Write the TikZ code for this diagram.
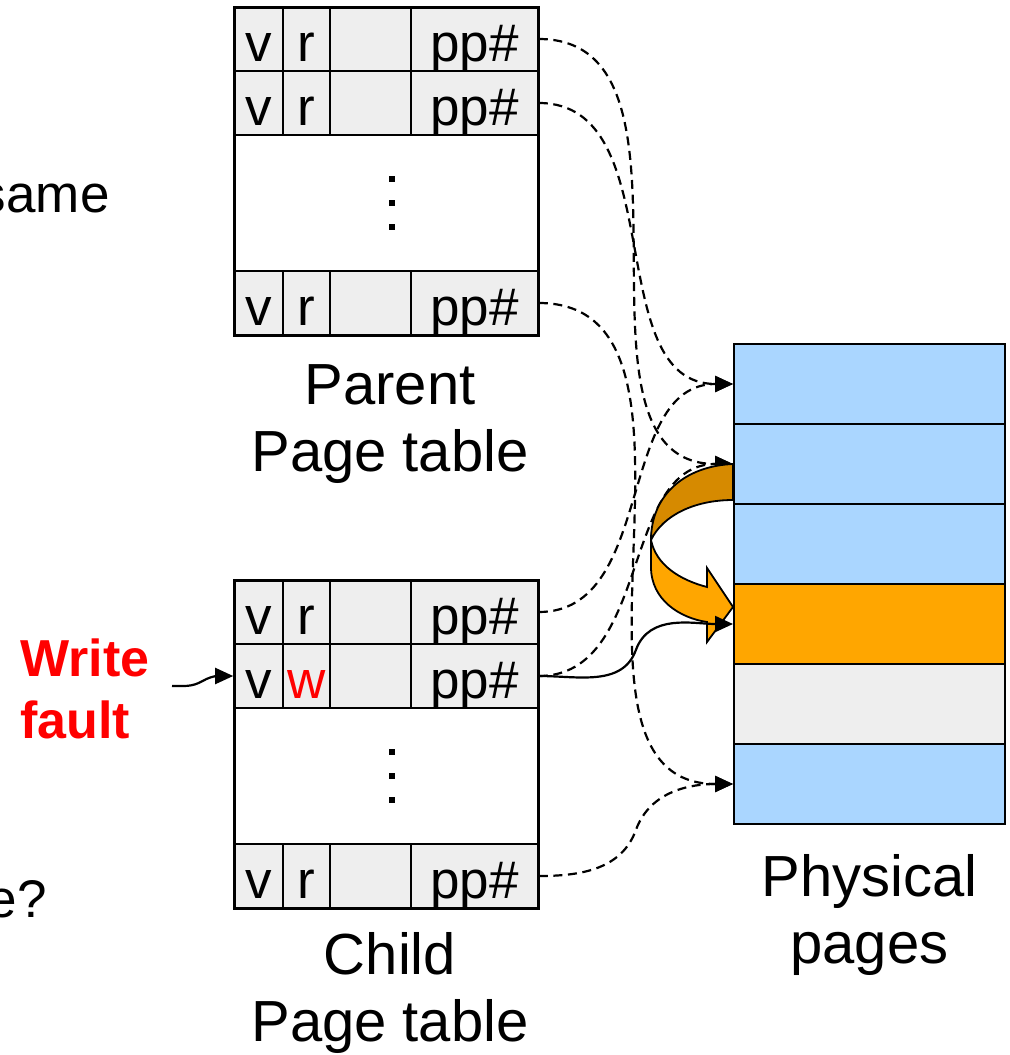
\documentclass[tikz,border=0pt]{standalone}
\usepackage{fontspec}
\setmainfont{Liberation Sans}
\usetikzlibrary{arrows.meta,calc}

\definecolor{cellgray}{RGB}{238,238,238}
\definecolor{pageblue}{RGB}{170,214,255}
\definecolor{pageorange}{RGB}{255,166,0}
\definecolor{foldorange}{RGB}{214,138,0}

\newcommand{\cellfont}{\fontsize{26.5}{31}\selectfont}
\newcommand{\lblfont}{\fontsize{29}{33.5}\selectfont}
\newcommand{\faultfont}{\fontsize{26}{31}\selectfont\bfseries}

\begin{document}
\begin{tikzpicture}
  [x=0.5pt,y=0.5pt,
   cell/.style={draw,fill=cellgray,line width=0.8pt,inner sep=0pt,minimum height=32pt,
                text height=27pt,text depth=5pt,font=\cellfont},
   frame/.style={draw,line width=1.5pt,inner sep=0pt,minimum width=152pt,minimum height=164pt},
   page/.style={draw,line width=1pt,inner sep=0pt,minimum width=135.5pt,minimum height=40pt},
   lbl/.style={align=center,font=\lblfont,inner sep=0pt,anchor=north},
   share/.style={dash pattern=on 4.5pt off 2.8pt,line width=1.1pt,-{Triangle[length=9pt,width=8pt]}},
   copy/.style={line width=1.1pt,-{Triangle[length=9pt,width=8pt]}}]
  \useasboundingbox (0,0) rectangle (1009,-1055);

  % parent page table
  \foreach \n/\y in {1/39,2/103,3/303} {
    \node[cell,minimum width=24.5pt] (pv\n) at (258.5,-\y) {v};
    \node[cell,minimum width=23.5pt] (pr\n) at (306.5,-\y) {r};
    \node[cell,minimum width=40.5pt] (pb\n) at (370.5,-\y) {};
    \node[cell,minimum width=63.5pt] (pp\n) at (474.5,-\y) {pp\#};
  }
  \node[frame] (ptab) at (386,-171) {};
  \foreach \y in {179,203,227}
    \fill (392,-\y) +(-3,-3) rectangle +(3,3);
  \node[lbl] (plbl) at (390,-364) {Parent\\Page table};

  % child page table
  \foreach \n/\y/\f in {1/612/r,2/676/{\textcolor{red}{w}},3/876/r} {
    \node[cell,minimum width=24.5pt] (cv\n) at (258.5,-\y) {v};
    \node[cell,minimum width=23.5pt] (cr\n) at (306.5,-\y) {\f};
    \node[cell,minimum width=40.5pt] (cb\n) at (370.5,-\y) {};
    \node[cell,minimum width=63.5pt] (cp\n) at (474.5,-\y) {pp\#};
  }
  \node[frame] (ctab) at (386,-744) {};
  \foreach \y in {752,776,800}
    \fill (392,-\y) +(-3,-3) rectangle +(3,3);
  \node[lbl] (clbl) at (390,-932) {Child\\Page table};

  % physical pages
  \foreach \n/\c in {1/pageblue,2/pageblue,3/pageblue,4/pageorange,5/cellgray,6/pageblue}
    \node[page,fill=\c] (pg\n) at (869.5,{-304-80*\n}) {};
  \node[lbl] (glbl) at (869.5,-854) {Physical\\pages};

  \node[anchor=base east,font=\cellfont,inner sep=0pt] (same) at (110,-212) {same};
  \node[anchor=base east,font=\cellfont,inner sep=0pt] (ques) at (47,-917) {e?};
  \node[anchor=north west,align=left,font=\faultfont,text=red,inner sep=0pt] (fault) at (20,-638) {Write\\fault};
  \coordinate (wf) at (172,-686);

  \foreach \from/\to in {pp1/pg2,pp2/pg1,pp3/pg6,cp1/pg1,cp2/pg2}
    \draw[share] (\from.east) to[out=0,in=180] (\to.west);
  \draw[share] (cp3.east) to[out=0,in=-110] ($(cp3.east)!.5!(pg6.west)$) to[out=70,in=180] (pg6.west);

  % copy arrow
  \filldraw[fill=foldorange,line width=0.9pt] (733,-464) .. controls (685,-466) and (651,-495) .. (651,-540)
    .. controls (663,-515) and (695,-500) .. (733,-500) -- cycle;
  \filldraw[fill=pageorange,line width=0.9pt] (651,-540) -- (651,-567) .. controls (651,-600) and (680,-618) .. (707,-622)
    -- (707,-642) -- (733,-607) -- (707,-568) -- (707,-587) .. controls (680,-580) and (656,-565) .. (651,-540) -- cycle;

  \draw[copy] (cp2.east) to[out=0,in=-110] ($(cp2.east)!.5!(pg4.west)$) to[out=70,in=180] (pg4.west);
  \draw[copy] (wf) to[out=0,in=-150] ($(wf)!.5!(cv2.west)$) to[out=30,in=180] (cv2.west);
\end{tikzpicture}
\end{document}
